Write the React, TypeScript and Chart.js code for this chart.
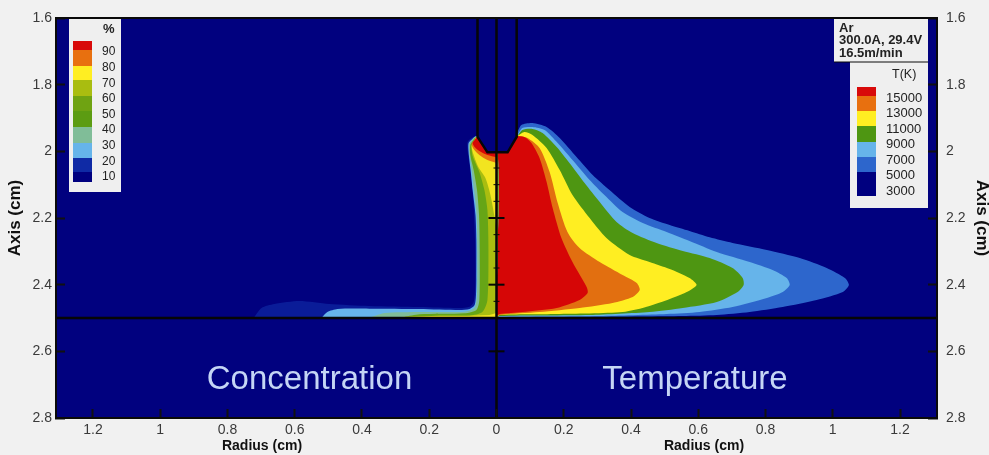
import React, { useEffect, useRef } from "react";
import { Chart, registerables } from "chart.js";

Chart.register(...registerables);

type Pt = [number, number];

const FONT = "'Liberation Sans', Arial, sans-serif";
const NAVY = "#01017f";

// Temperature contours: [radius cm, axis cm]
const temp5000: Pt[] = [[0.0625,1.942],[0.074,1.921],[0.107,1.915],[0.149,1.927],[0.188,1.96],[0.238,2.017],[0.286,2.071],[0.336,2.116],[0.396,2.167],[0.455,2.2],[0.515,2.221],[0.574,2.239],[0.634,2.258],[0.702,2.275],[0.804,2.296],[0.902,2.32],[0.982,2.35],[1.036,2.38],[1.048,2.401],[1.03,2.422],[0.952,2.446],[0.851,2.467],[0.753,2.482],[0.655,2.491],[0.554,2.494],[0.3,2.497],[0,2.5],[0,1.95]];
const temp7000: Pt[] = [[0.0625,1.951],[0.077,1.93],[0.107,1.927],[0.143,1.936],[0.182,1.975],[0.226,2.026],[0.277,2.086],[0.321,2.131],[0.375,2.182],[0.435,2.215],[0.506,2.242],[0.574,2.269],[0.655,2.302],[0.753,2.332],[0.821,2.356],[0.863,2.38],[0.872,2.401],[0.851,2.422],[0.804,2.44],[0.702,2.467],[0.604,2.482],[0.506,2.488],[0.307,2.494],[0.009,2.497],[0,2.5],[0,1.95]];
const temp9000: Pt[] = [[0.0625,1.954],[0.077,1.936],[0.107,1.933],[0.137,1.945],[0.179,1.987],[0.217,2.035],[0.262,2.095],[0.307,2.152],[0.357,2.212],[0.405,2.245],[0.476,2.275],[0.554,2.299],[0.634,2.32],[0.702,2.35],[0.732,2.38],[0.735,2.401],[0.717,2.422],[0.655,2.452],[0.554,2.47],[0.455,2.482],[0.277,2.491],[0.009,2.494],[0,2.5],[0,1.95]];
const temp11000: Pt[] = [[0.0625,1.954],[0.083,1.942],[0.107,1.951],[0.149,1.99],[0.188,2.056],[0.226,2.131],[0.277,2.2],[0.327,2.26],[0.396,2.311],[0.455,2.332],[0.515,2.353],[0.574,2.38],[0.595,2.401],[0.56,2.425],[0.455,2.464],[0.375,2.482],[0.179,2.488],[0.009,2.491],[0,2.5],[0,1.95]];
const temp13000: Pt[] = [[0.0625,1.954],[0.092,1.96],[0.128,1.99],[0.158,2.062],[0.182,2.155],[0.211,2.242],[0.247,2.29],[0.307,2.332],[0.375,2.371],[0.417,2.395],[0.426,2.416],[0.405,2.437],[0.345,2.455],[0.247,2.47],[0.128,2.482],[0.009,2.491],[0,2.5],[0,1.95]];
const temp15000: Pt[] = [[0.0625,1.954],[0.083,1.957],[0.104,1.975],[0.128,2.02],[0.149,2.092],[0.167,2.17],[0.193,2.26],[0.226,2.332],[0.268,2.407],[0.271,2.425],[0.247,2.446],[0.179,2.47],[0.077,2.482],[0.009,2.488],[0,2.491],[0,1.95]];

// Concentration contours: [radius cm, axis cm]
const conc10: Pt[] = [[-0.72,2.497],[-0.699,2.47],[-0.661,2.458],[-0.586,2.449],[-0.497,2.458],[-0.378,2.464],[-0.229,2.467],[-0.11,2.47],[-0.08,2.466],[-0.068,2.452],[-0.064,2.416],[-0.0625,2.356],[-0.064,2.266],[-0.068,2.161],[-0.074,2.086],[-0.08,2.041],[-0.086,1.996],[-0.086,1.972],[-0.074,1.96],[-0.06,1.953],[0,1.95],[0,2.5]];
const conc20: Pt[] = [[-0.518,2.497],[-0.503,2.482],[-0.473,2.473],[-0.378,2.472],[-0.229,2.473],[-0.11,2.476],[-0.08,2.473],[-0.065,2.461],[-0.061,2.431],[-0.06,2.386],[-0.06,2.266],[-0.0625,2.191],[-0.071,2.116],[-0.077,2.056],[-0.083,2.002],[-0.083,1.975],[-0.071,1.962],[-0.06,1.954],[0,1.95],[0,2.5]];
const conc30: Pt[] = [[-0.372,2.497],[-0.333,2.485],[-0.229,2.482],[-0.095,2.481],[-0.065,2.469],[-0.058,2.431],[-0.057,2.296],[-0.059,2.191],[-0.0665,2.116],[-0.074,2.056],[-0.081,2.005],[-0.081,1.978],[-0.071,1.963],[-0.06,1.955],[0,1.95],[0,2.5]];
const conc50: Pt[] = [[-0.274,2.497],[-0.229,2.489],[-0.095,2.486],[-0.06,2.476],[-0.051,2.446],[-0.05,2.296],[-0.052,2.191],[-0.058,2.116],[-0.068,2.056],[-0.078,2.011],[-0.078,1.981],[-0.068,1.965],[-0.06,1.957],[0,1.95],[0,2.5]];
const conc60: Pt[] = [[-0.17,2.497],[-0.08,2.493],[-0.042,2.482],[-0.027,2.446],[-0.024,2.296],[-0.027,2.176],[-0.036,2.116],[-0.051,2.062],[-0.071,2.014],[-0.074,1.984],[-0.065,1.966],[-0.06,1.957],[0,1.95],[0,2.5]];
const conc70: Pt[] = [[0,2.23],[-0.018,2.131],[-0.033,2.08],[-0.054,2.047],[-0.068,2.011],[-0.074,1.984],[-0.065,1.966],[-0.06,1.957],[0,1.95]];
const conc70Base: Pt[] = [[-0.289,2.497],[-0.17,2.493],[-0.08,2.493],[-0.021,2.491],[0,2.485],[0,2.5]];
const conc80: Pt[] = [[0,2.035],[-0.027,2.026],[-0.051,2.011],[-0.068,1.993],[-0.074,1.978],[-0.065,1.966],[-0.06,1.958],[0,1.95]];
const conc90: Pt[] = [[0,2.018],[-0.027,2.011],[-0.051,1.999],[-0.065,1.987],[-0.071,1.975],[-0.0625,1.963],[-0.0565,1.957],[0,1.95]];

// Structure
const belowBase: Pt[] = [[-1.32,2.5],[1.32,2.5],[1.32,2.8],[-1.32,2.8]];
const electrode: Pt[] = [[-0.0565,1.6],[-0.0565,1.957],[-0.027,2.003],[0.033,2.003],[0.06,1.957],[0.06,1.6]];
const centerLine: Pt[] = [[0,1.6],[0,2.8]];
const baseLine: Pt[] = [[-1.32,2.5],[1.32,2.5]];
const centerMajor = [2.2, 2.4, 2.6];
const centerMinor = [2.05, 2.1, 2.15, 2.25, 2.3, 2.35, 2.45];

// Legends
const concLevels = ["90", "80", "70", "60", "50", "40", "30", "20", "10"];
const concColors = ["#d80a0a", "#e8700f", "#ffee22", "#a9bd10", "#6fa312", "#5c9c12", "#80bd98", "#66b4ea", "#0f2aa5", "#00007f"];
const tempLevels = ["15000", "13000", "11000", "9000", "7000", "5000", "3000"];
const tempColors = ["#d80a0a", "#e8700f", "#ffee22", "#4e9612", "#66b4ea", "#2d66cc", "#00007f"];
const caseLines = ["Ar", "300.0A, 29.4V", "16.5m/min"];

const layer = (pts: Pt[], color: string, tension = 0.25) => ({
  data: pts.map(([x, y]) => ({ x, y })),
  backgroundColor: color,
  borderColor: color,
  borderWidth: 0,
  pointRadius: 0,
  fill: "shape",
  tension,
});

const line = (pts: Pt[], width: number) => ({
  data: pts.map(([x, y]) => ({ x, y })),
  borderColor: "#060606",
  borderWidth: width,
  pointRadius: 0,
  fill: false,
  tension: 0,
});

const ticks = (values: number[], radius: number, width: number) => ({
  data: values.map((y) => ({ x: 0, y })),
  showLine: false,
  pointStyle: "line",
  pointRadius: radius,
  pointBorderColor: "#060606",
  pointBorderWidth: width,
});

// In draw order, first painted first
const paintOrder: any[] = [
  layer(temp5000, "#2d66cc"),
  layer(temp7000, "#66b4ea"),
  layer(temp9000, "#4e9612"),
  layer(temp11000, "#ffee22"),
  layer(temp13000, "#e26f10"),
  layer(temp15000, "#d60606"),
  layer(conc10, "#0a1c98"),
  layer(conc20, "#66b4ea"),
  layer(conc30, "#80bd98"),
  layer(conc50, "#66a516"),
  layer(conc60, "#a9bd10"),
  layer(conc70, "#f2e420"),
  layer(conc70Base, "#f2e420", 0),
  layer(conc80, "#e8700f"),
  layer(conc90, "#d60606"),
  layer(belowBase, NAVY, 0),
  { ...layer(electrode, NAVY, 0), borderColor: "#060606", borderWidth: 2.5 },
  line(baseLine, 2.5),
  line(centerLine, 2.5),
  ticks(centerMajor, 8, 2),
  ticks(centerMinor, 3, 1),
];

const tickLabel = (v: number) => String(Math.abs(Number(v.toFixed(1))));

const overlay = {
  id: "overlay",
  beforeDatasetsDraw(chart: any) {
    const { ctx, chartArea: a } = chart;
    ctx.save();
    ctx.fillStyle = NAVY;
    ctx.fillRect(a.left, a.top, a.right - a.left, a.bottom - a.top);
    ctx.restore();
  },
  afterDraw(chart: any) {
    const { ctx, chartArea: a } = chart;
    ctx.save();
    ctx.strokeStyle = "#0a0a0a";
    ctx.lineWidth = 2;
    ctx.strokeRect(a.left, a.top, a.right - a.left, a.bottom - a.top);

    // Concentration legend
    ctx.fillStyle = "#efefef";
    ctx.fillRect(69, 19, 52, 173);
    const cEdges = [41, 50, 66, 80, 96, 111, 127, 143, 158, 172, 182];
    concColors.forEach((c, i) => {
      ctx.fillStyle = c;
      ctx.fillRect(73, cEdges[i], 19, cEdges[i + 1] - cEdges[i]);
    });
    ctx.textBaseline = "middle";
    ctx.textAlign = "left";
    ctx.fillStyle = "#222";
    ctx.font = `12px ${FONT}`;
    concLevels.forEach((t, i) => ctx.fillText(t, 102, 52 + i * 15.6));
    ctx.font = `bold 13px ${FONT}`;
    ctx.fillText("%", 103, 29);

    // Case box + temperature legend
    ctx.fillStyle = "#efefef";
    ctx.fillRect(834, 19, 94, 43);
    ctx.fillRect(850, 62, 78, 146);
    ctx.strokeStyle = "#0a0a0a";
    ctx.lineWidth = 1;
    ctx.beginPath();
    ctx.moveTo(834, 62);
    ctx.lineTo(928, 62);
    ctx.stroke();
    const tEdges = [87, 96, 111, 126, 142, 157, 172, 196];
    tempColors.forEach((c, i) => {
      ctx.fillStyle = c;
      ctx.fillRect(857, tEdges[i], 19, tEdges[i + 1] - tEdges[i]);
    });
    ctx.fillStyle = "#222";
    ctx.font = `bold 13px ${FONT}`;
    caseLines.forEach((t, i) => ctx.fillText(t, 839, 28 + i * 12.5));
    ctx.font = `13px ${FONT}`;
    tempLevels.forEach((t, i) => ctx.fillText(t, 886, 98 + i * 15.5));
    ctx.font = `12.5px ${FONT}`;
    ctx.fillText("T(K)", 892, 75);

    // Region captions
    ctx.textAlign = "center";
    ctx.fillStyle = "#c5d5f5";
    ctx.font = `33px ${FONT}`;
    ctx.fillText("Concentration", 309.5, 380);
    ctx.fillText("Temperature", 695, 380);

    // Horizontal axis titles
    ctx.fillStyle = "#111";
    ctx.font = `bold 14px ${FONT}`;
    ctx.fillText("Radius (cm)", 262, 446);
    ctx.fillText("Radius (cm)", 704, 446);
    ctx.restore();
  },
};

export default function App() {
  const ref = useRef<HTMLCanvasElement>(null);
  useEffect(() => {
    document.body.style.margin = "0";
    document.body.style.background = "#f1f1f1";
    const axisTicks = { color: "#3a3a3a", font: { family: FONT, size: 14 }, autoSkip: false, includeBounds: false };
    const grid = { drawOnChartArea: false, tickLength: -9, tickColor: "#111", tickWidth: 2, z: 1 };
    const border = { color: "#0a0a0a", width: 2, z: 1 };
    const yShared = { type: "linear", min: 1.6, max: 2.8, reverse: true };
    const yTitle = { display: true, text: "Axis (cm)", color: "#111", font: { family: FONT, size: 17, weight: "bold" } };
    const fitY = (width: number) => (s: any) => {
      s.width = width;
      s.paddingTop = 0;
      s.paddingBottom = 0;
    };
    const chart = new Chart(ref.current!, {
      type: "line",
      data: { datasets: [...paintOrder].reverse() },
      options: {
        animation: false,
        responsive: false,
        events: [],
        layout: { padding: { top: 18, right: 0, bottom: 0, left: 0 } },
        plugins: { legend: { display: false }, tooltip: { enabled: false } },
        scales: {
          x: {
            type: "linear",
            min: -1.31,
            max: 1.31,
            grid,
            border,
            ticks: { ...axisTicks, stepSize: 0.2, maxRotation: 0, padding: 13, callback: tickLabel },
            afterFit: (s: any) => { s.height = 37; },
          },
          y: {
            ...yShared,
            position: "left",
            grid,
            border,
            title: { ...yTitle, padding: { top: 5, bottom: 0 } },
            ticks: { ...axisTicks, stepSize: 0.2, padding: 13, callback: tickLabel },
            afterFit: fitY(56),
          },
          y2: {
            ...yShared,
            position: "right",
            grid,
            border,
            title: { ...yTitle, padding: { top: -3, bottom: 0 } },
            ticks: { ...axisTicks, stepSize: 0.2, padding: 18, callback: tickLabel },
            afterFit: fitY(52),
          },
        },
      } as any,
      plugins: [overlay],
    } as any);
    return () => chart.destroy();
  }, []);
  return <canvas ref={ref} width={989} height={455} style={{ display: "block" }} />;
}
